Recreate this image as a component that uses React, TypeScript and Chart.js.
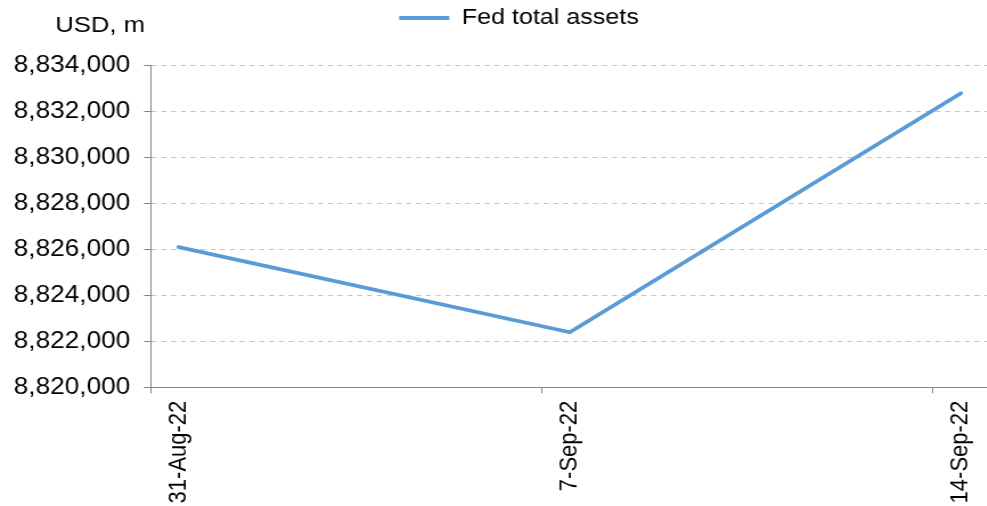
import React, { useEffect, useRef } from "react";
import { Chart, registerables } from "chart.js";

Chart.register(...registerables);

// ---- data ----
const dates = ["31-Aug-22", "7-Sep-22", "14-Sep-22"];
const dayOffsets = [0, 7, 14]; // days since 31-Aug-22
const values = [8826100, 8822400, 8832800];
const seriesName = "Fed total assets";
const unitLabel = "USD, m";
const yMin = 8820000;
const yMax = 8834000;
const yStep = 2000;
const axisDays = 15.88; // axis span (the picture is cropped on the right)

const FONT = '"Liberation Sans", Arial, Helvetica, sans-serif';
const BLUE = "#5B9BD5";
const AXIS = "#868686";
const GRID = "#C4C4C4";

const STRETCH = 987 / 866; // horizontal stretch of the original picture
const INNER_W = 911;
const H = 506;

const unitLabelPlugin = {
  id: "unitLabel",
  afterDraw(chart: any) {
    const { ctx, chartArea } = chart;
    ctx.save();
    ctx.font = `22.5px ${FONT}`;
    ctx.fillStyle = "#000";
    ctx.textAlign = "right";
    ctx.textBaseline = "alphabetic";
    ctx.fillText(unitLabel, chartArea.left - 5, chartArea.top - 34);
    ctx.restore();
  },
};

export default function App() {
  const ref = useRef<HTMLCanvasElement | null>(null);

  useEffect(() => {
    document.body.style.margin = "0";
    const canvas = ref.current!;
    const chart = new Chart(canvas, {
      type: "line",
      data: {
        datasets: [
          {
            label: seriesName,
            data: values.map((v, i) => ({ x: dayOffsets[i] + 0.5, y: v })),
            borderColor: BLUE,
            backgroundColor: BLUE,
            borderWidth: 3.8,
            borderCapStyle: "round",
            borderJoinStyle: "round",
            pointRadius: 0,
            tension: 0,
            xAxisID: "x",
            yAxisID: "y",
          },
        ],
      },
      options: {
        responsive: false,
        maintainAspectRatio: false,
        animation: false,
        devicePixelRatio: 1,
        layout: { padding: { left: 0, right: 0, top: 0, bottom: 3.3 } },
        plugins: {
          tooltip: { enabled: false },
          // empty title used only as a spacer between the legend and the plot
          title: {
            display: true,
            text: "",
            weight: 500,
            font: { size: 10, lineHeight: 1 },
            padding: { top: 0, bottom: 16.7 },
          },
          legend: {
            display: true,
            position: "top",
            align: "center",
            weight: 1000,
            labels: {
              font: { size: 22, family: FONT },
              color: "#000",
              boxWidth: 44,
              boxHeight: 4,
              padding: 7,
              generateLabels(chart: any) {
                const items = Chart.defaults.plugins.legend.labels.generateLabels(chart);
                return items.map((it: any) => ({ ...it, lineWidth: 0, fillStyle: BLUE, strokeStyle: BLUE }));
              },
            },
          },
        },
        scales: {
          x: {
            type: "linear",
            position: "bottom",
            min: 0,
            max: axisDays,
            afterBuildTicks(scale: any) {
              scale.ticks = dayOffsets.map((d) => ({ value: d }));
            },
            ticks: { display: false },
            grid: {
              display: true,
              drawOnChartArea: false,
              drawTicks: true,
              tickLength: 6,
              tickColor: AXIS,
            },
            border: { display: true, color: AXIS, width: 1 },
          },
          x2: {
            type: "linear",
            position: "bottom",
            min: 0,
            max: axisDays,
            afterBuildTicks(scale: any) {
              scale.ticks = dayOffsets.map((d) => ({ value: d + 0.5 }));
            },
            ticks: {
              autoSkip: false,
              minRotation: 90,
              maxRotation: 90,
              padding: -0.7,
              color: "#000",
              font: { size: 22, family: FONT },
              callback: (_v: any, i: number) => dates[i],
            },
            grid: { display: false },
            border: { display: false },
          },
          y: {
            type: "linear",
            position: "left",
            min: yMin,
            max: yMax,
            ticks: {
              stepSize: yStep,
              padding: 12,
              color: "#000",
              font: { size: 23, family: FONT },
              callback: (v: any) => Number(v).toLocaleString("en-US"),
            },
            grid: {
              color: GRID,
              lineWidth: 1,
              drawTicks: true,
              tickLength: 6,
              tickColor: AXIS,
            },
            border: { display: true, color: AXIS, width: 1, dash: [4.3, 4.3] },
          },
        },
      },
      plugins: [unitLabelPlugin],
    } as any);
    return () => chart.destroy();
  }, []);

  return (
    <div style={{ width: "987px", height: `${H}px`, overflow: "hidden", position: "relative" }}>
      <canvas
        ref={ref}
        width={INNER_W}
        height={H}
        style={{ width: `${INNER_W * STRETCH}px`, height: `${H}px`, display: "block" }}
      />
    </div>
  );
}
